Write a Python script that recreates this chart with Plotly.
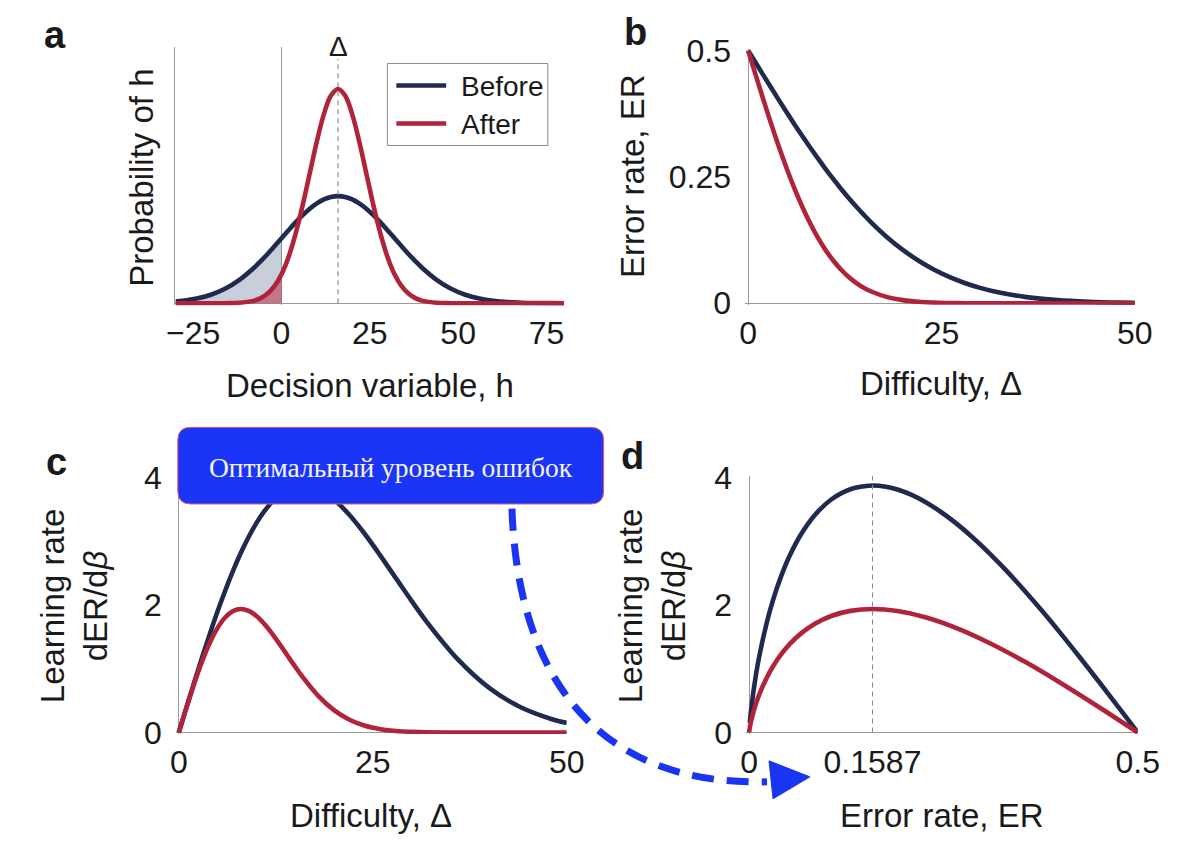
import plotly.graph_objects as go

# ---------------- data ----------------
# Panel a: decision variable h and probability density (arbitrary units)
h_vals = [-30, -28, -24, -20, -16, -12, -8, -6, -4, -2, 0, 2, 4, 6, 8, 10, 12, 14, 16,
          18, 20, 22, 24, 26, 28, 30, 32, 34, 36, 38, 40, 44, 48, 52, 56, 60, 64, 68, 72, 76, 80]
dens_before = [0.0160, 0.0228, 0.0439, 0.0796, 0.1353, 0.2163, 0.3247, 0.3886, 0.4578, 0.5311,
               0.6065, 0.6819, 0.7548, 0.8226, 0.8825, 0.9321, 0.9692, 0.9922, 1.0,
               0.9922, 0.9692, 0.9321, 0.8825, 0.8226, 0.7548, 0.6819, 0.6065, 0.5311, 0.4578,
               0.3886, 0.3247, 0.2163, 0.1353, 0.0796, 0.0439, 0.0228, 0.0111, 0.0051, 0.0022,
               0.0009, 0.0003]
dens_after = [0, 0, 0, 0.0001, 0.0007, 0.0044, 0.0222, 0.0456, 0.0879, 0.1592,
              0.2707, 0.4326, 0.6494, 0.9156, 1.2131, 1.5096, 1.7650, 1.9384, 2.0,
              1.9384, 1.7650, 1.5096, 1.2131, 0.9156, 0.6494, 0.4326, 0.2707, 0.1592, 0.0879,
              0.0456, 0.0222, 0.0044, 0.0007, 0.0001, 0, 0, 0, 0, 0, 0, 0]
delta_mark = 16
series_names = ["Before", "After"]

# Panels b-d: difficulty, error rate, learning rate
difficulty = [0, 1, 2, 3, 4, 5, 6, 7, 8, 9, 10, 11, 12, 13, 14, 15, 16,
              18, 20, 22, 24, 26, 28, 30, 32, 36, 40, 44, 48, 50]
er_before = [0.5, 0.4751, 0.4503, 0.4256, 0.4013, 0.3773, 0.3538, 0.3309, 0.3085, 0.2869,
             0.2660, 0.2459, 0.2266, 0.2083, 0.1908, 0.1743, 0.1587,
             0.1303, 0.1056, 0.0846, 0.0668, 0.0521, 0.0401, 0.0304, 0.0228,
             0.0122, 0.0062, 0.0030, 0.0013, 0.0009]
er_after = [0.5, 0.4503, 0.4013, 0.3538, 0.3085, 0.2660, 0.2266, 0.1908, 0.1587, 0.1303,
            0.1056, 0.0846, 0.0668, 0.0521, 0.0401, 0.0304, 0.0228,
            0.0122, 0.0062, 0.0030, 0.0013, 0.0006, 0.0002, 0.0001, 0,
            0, 0, 0, 0, 0]
lr_before = [0, 0.398, 0.792, 1.176, 1.547, 1.900, 2.231, 2.538, 2.817, 3.065,
             3.282, 3.465, 3.614, 3.728, 3.809, 3.856, 3.872,
             3.814, 3.653, 3.410, 3.108, 2.770, 2.416, 2.064, 1.728,
             1.143, 0.701, 0.400, 0.213, 0.151]
lr_after = [0, 0.396, 0.773, 1.116, 1.408, 1.641, 1.807, 1.904, 1.936, 1.907,
            1.827, 1.705, 1.554, 1.385, 1.208, 1.032, 0.864,
            0.571, 0.351, 0.200, 0.106, 0.053, 0.024, 0.011, 0.004,
            0.0005, 0, 0, 0, 0]
optimal_er = 0.1587

# ticks
x_ticks_a = [-25, 0, 25, 50, 75]
x_ticks_diff = [0, 25, 50]
y_ticks_b = [0, 0.25, 0.5]
y_ticktext_b = ["0", "0.25", "0.5"]
y_ticks_lr = [0, 2, 4]
x_ticks_d = [0, 0.1587, 0.5]
x_ticktext_d = ["0", "0.1587", "0.5"]

# ---------------- style ----------------
W, H = 1200, 849
NAVY = "#1f2a4e"
RED = "#b0243b"
GRAY = "#9a9a9a"
TXT = "#1a1a1a"
FONT = "Liberation Sans, Arial, sans-serif"
ARROW = "#1a35f2"
LW = 4.6


def px(x):
    return (-7.5 + 1.023 * x) / W


def py(y):
    return 1 - (-16.2 + 1.041 * y) / H


fig = go.Figure()

# --- panel a ---
h_neg = [h for h in h_vals if h <= 0]
fig.add_trace(go.Scatter(x=h_neg, y=dens_before[:len(h_neg)], mode="lines", fill="tozeroy",
                         fillcolor="rgba(40,60,110,0.25)", line=dict(width=0, shape="spline"),
                         showlegend=False, hoverinfo="skip", xaxis="x", yaxis="y"))
fig.add_trace(go.Scatter(x=h_neg, y=dens_after[:len(h_neg)], mode="lines", fill="tozeroy",
                         fillcolor="rgba(190,50,70,0.55)", line=dict(width=0, shape="spline"),
                         showlegend=False, hoverinfo="skip", xaxis="x", yaxis="y"))
fig.add_trace(go.Scatter(x=h_vals, y=dens_before, mode="lines", name=series_names[0],
                         line=dict(color=NAVY, width=LW, shape="spline"), xaxis="x", yaxis="y"))
fig.add_trace(go.Scatter(x=h_vals, y=dens_after, mode="lines", name=series_names[1],
                         line=dict(color=RED, width=LW, shape="spline"), xaxis="x", yaxis="y"))

# --- panel b ---
fig.add_trace(go.Scatter(x=difficulty, y=er_before, mode="lines", name=series_names[0],
                         line=dict(color=NAVY, width=LW, shape="spline"), xaxis="x2", yaxis="y2"))
fig.add_trace(go.Scatter(x=difficulty, y=er_after, mode="lines", name=series_names[1],
                         line=dict(color=RED, width=LW, shape="spline"), xaxis="x2", yaxis="y2"))

# --- panel c ---
fig.add_trace(go.Scatter(x=difficulty, y=lr_before, mode="lines", name=series_names[0],
                         line=dict(color=NAVY, width=LW, shape="spline"), xaxis="x3", yaxis="y3"))
fig.add_trace(go.Scatter(x=difficulty, y=lr_after, mode="lines", name=series_names[1],
                         line=dict(color=RED, width=LW, shape="spline"), xaxis="x3", yaxis="y3"))

# --- panel d ---
fig.add_trace(go.Scatter(x=er_before, y=lr_before, mode="lines", name=series_names[0],
                         line=dict(color=NAVY, width=LW, shape="spline"), xaxis="x4", yaxis="y4"))
fig.add_trace(go.Scatter(x=er_after, y=lr_after, mode="lines", name=series_names[1],
                         line=dict(color=RED, width=LW, shape="spline"), xaxis="x4", yaxis="y4"))

tickfont = dict(family=FONT, size=32, color=TXT)
common_x = dict(showgrid=False, showline=False, ticks="", tickfont=tickfont,
                zeroline=True, zerolinecolor=GRAY, zerolinewidth=1, ticklabelstandoff=6)
common_y = dict(showgrid=False, showline=False, ticks="", tickfont=tickfont,
                zeroline=True, zerolinecolor=GRAY, zerolinewidth=1, ticklabelstandoff=13)

fig.update_layout(
    width=W, height=H, autosize=False,
    margin=dict(l=0, r=0, t=0, b=0),
    paper_bgcolor="white", plot_bgcolor="white",
    font=dict(family=FONT, color=TXT),
    showlegend=False,
    xaxis=dict(common_x, domain=[px(174.4), px(564.4)], range=[-30, 80], tickvals=x_ticks_a,
               anchor="y"),
    yaxis=dict(common_y, domain=[py(304.8), py(46.7)], range=[-0.02, 2.39], showticklabels=False,
               showline=True, linecolor=GRAY, linewidth=1, anchor="x"),
    xaxis2=dict(common_x, domain=[px(745.9), px(1137)], range=[-0.4, 50], tickvals=x_ticks_diff,
                anchor="y2"),
    yaxis2=dict(common_y, domain=[py(304.2), py(48.5)], range=[-0.003, 0.503], tickvals=y_ticks_b,
                ticktext=y_ticktext_b, anchor="x2"),
    xaxis3=dict(common_x, domain=[px(174.6), px(567)], range=[-0.4, 50], tickvals=x_ticks_diff,
                anchor="y3"),
    yaxis3=dict(common_y, domain=[py(733.3), py(475.4)], range=[-0.025, 4.02], tickvals=y_ticks_lr,
                anchor="x3"),
    xaxis4=dict(common_x, domain=[px(746.9), px(1140)], range=[-0.004, 0.5], tickvals=x_ticks_d,
                ticktext=x_ticktext_d, anchor="y4"),
    yaxis4=dict(common_y, domain=[py(733.3), py(475.4)], range=[-0.025, 4.02], tickvals=y_ticks_lr,
                anchor="x4"),
)


def P(x, y):
    return f"{px(x):.5f},{py(y):.5f}"


shapes = []
# dashed Δ marker in panel a
shapes.append(dict(type="line", xref="x", yref="y", x0=delta_mark, x1=delta_mark, y0=0, y1=2.28,
                   line=dict(color="#777777", width=1, dash="5px,4px")))
# dashed optimal ER marker in panel d
shapes.append(dict(type="line", xref="x4", yref="y4", x0=optimal_er, x1=optimal_er, y0=0, y1=4.02,
                   line=dict(color="#888888", width=1, dash="5px,4px")))

# legend (panel a)
shapes.append(dict(type="rect", xref="paper", yref="paper", x0=px(387), x1=px(548), y0=py(63), y1=py(145),
                   fillcolor="white", line=dict(color="#8a8a8a", width=1)))
shapes.append(dict(type="line", xref="paper", yref="paper", x0=px(396), x1=px(446), y0=py(85), y1=py(85),
                   line=dict(color=NAVY, width=LW)))
shapes.append(dict(type="line", xref="paper", yref="paper", x0=px(396), x1=px(446), y0=py(123), y1=py(123),
                   line=dict(color=RED, width=LW)))

# rounded blue callout box
x0, y0, x1, y1, r = 176.7, 426.7, 604.0, 503.3, 13
box_path = (f"M {P(x0 + r, y0)} L {P(x1 - r, y0)} Q {P(x1, y0)} {P(x1, y0 + r)} "
            f"L {P(x1, y1 - r)} Q {P(x1, y1)} {P(x1 - r, y1)} "
            f"L {P(x0 + r, y1)} Q {P(x0, y1)} {P(x0, y1 - r)} "
            f"L {P(x0, y0 + r)} Q {P(x0, y0)} {P(x0 + r, y0)} Z")
shapes.append(dict(type="path", xref="paper", yref="paper", path=box_path, layer="above",
                   fillcolor="#1a35f5", line=dict(color="#e05a6a", width=1)))

# dashed curved arrow
arrow_path = f"M {P(512, 508)} C {P(518, 680)} {P(600, 785)} {P(768, 781)}"
shapes.append(dict(type="path", xref="paper", yref="paper", path=arrow_path, layer="above",
                   line=dict(color=ARROW, width=7, dash="22px,13px")))
head_path = f"M {P(770, 760)} L {P(811, 776)} L {P(774, 798)} Z"
shapes.append(dict(type="path", xref="paper", yref="paper", path=head_path, layer="above",
                   fillcolor=ARROW, line=dict(color=ARROW, width=1)))
fig.update_layout(shapes=shapes)

ann = []


def text(x, y, s, size=33, angle=0, bold=False, color=TXT, family=FONT, xanchor="center"):
    ann.append(dict(x=px(x), y=py(y), xref="paper", yref="paper", text=(f"<b>{s}</b>" if bold else s),
                    showarrow=False, textangle=angle, xanchor=xanchor, yanchor="middle",
                    font=dict(family=family, size=size, color=color)))


# panel letters
text(53, 35, "a", size=38, bold=True)
text(636, 32, "b", size=38, bold=True)
text(55, 461, "c", size=38, bold=True)
text(633, 455, "d", size=38, bold=True)
# axis titles
text(369.4, 385, "Decision variable, h")
text(140, 177, "Probability of h", angle=-90)
text(943, 383, "Difficulty, Δ")
text(633, 176, "Error rate, ER", angle=-90)
text(371, 815, "Difficulty, Δ")
text(72, 605, "Learning rate<br>dER/d<i>β</i>", angle=-90)
text(944, 815, "Error rate, ER")
text(652, 605, "Learning rate<br>dER/d<i>β</i>", angle=-90)
# legend texts
text(459, 86, series_names[0], size=28, xanchor="left")
text(459, 124, series_names[1], size=28, xanchor="left")
# delta label
ann.append(dict(x=delta_mark, y=py(46), xref="x", yref="paper", text="Δ", showarrow=False,
                xanchor="center", yanchor="middle", font=dict(family=FONT, size=28, color=TXT)))
# callout text
text(390.3, 466.7, "Оптимальный уровень ошибок", size=27.5, color="#f4f4f4",
     family="Liberation Serif, Times New Roman, serif")
fig.update_layout(annotations=ann)

fig.write_html("out.html", config={"displayModeBar": False},
               post_script="document.body.style.margin='0';document.body.style.overflow='hidden';")
